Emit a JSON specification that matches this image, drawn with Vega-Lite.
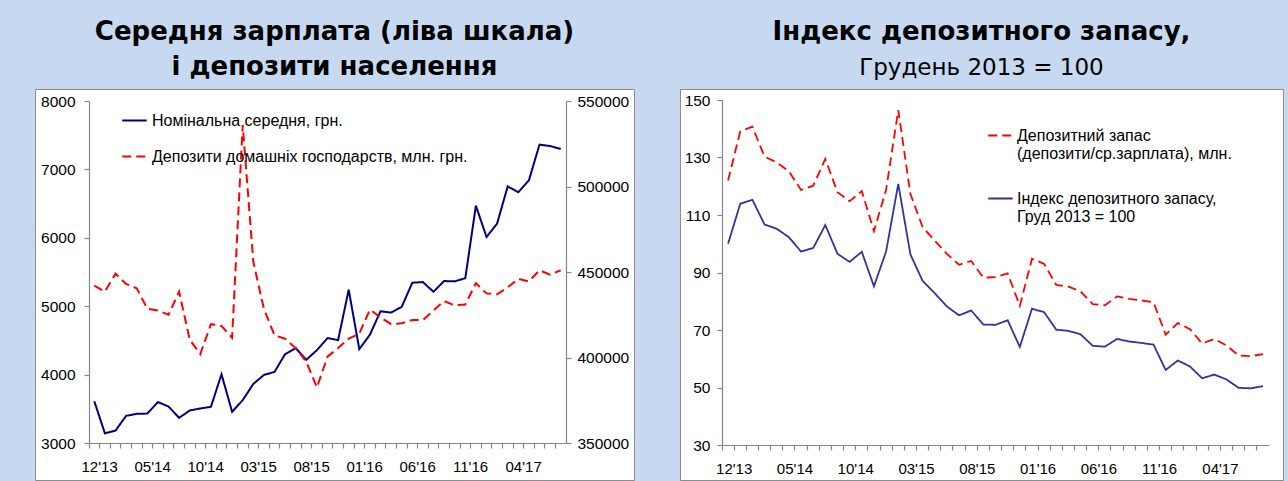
{
  "$schema": "https://vega.github.io/schema/vega-lite/v6.json",
  "background": "#C6D9F1",
  "padding": {"left": 34, "top": 18, "right": 8, "bottom": 0},
  "spacing": 44,
  "config": {
    "view": {"fill": "white", "stroke": "#8c8c8c", "strokeWidth": 1},
    "axis": {"domainColor": "#868686", "tickColor": "#868686", "domainWidth": 1.2, "tickWidth": 1.2, "tickSize": 5, "labelColor": "black", "labelFont": "Liberation Sans", "labelFontSize": 15.5, "grid": false, "title": null},
    "title": {"font": "DejaVu Sans", "fontSize": 26, "fontWeight": "bold", "color": "black", "anchor": "middle", "frame": "group", "offset": 9, "lineHeight": 35},
    "legend": {"title": null, "orient": "none", "symbolType": "stroke", "symbolSize": 600, "symbolStrokeWidth": 2, "labelFont": "Liberation Sans", "labelFontSize": 16, "labelColor": "black", "padding": 0, "labelLimit": 600}
  },
  "resolve": {"scale": {"color": "independent", "strokeDash": "independent"}, "legend": {"color": "independent", "strokeDash": "independent"}},
  "datasets": {
    "left": [
      {"m":"12'13","s":"w","v":3610},{"m":"01'14","s":"w","v":3142},{"m":"02'14","s":"w","v":3181},{"m":"03'14","s":"w","v":3397},{"m":"04'14","s":"w","v":3426},{"m":"05'14","s":"w","v":3430},{"m":"06'14","s":"w","v":3598},{"m":"07'14","s":"w","v":3534},{"m":"08'14","s":"w","v":3368},{"m":"09'14","s":"w","v":3475},{"m":"10'14","s":"w","v":3505},{"m":"11'14","s":"w","v":3529},{"m":"12'14","s":"w","v":4005},{"m":"01'15","s":"w","v":3456},{"m":"02'15","s":"w","v":3627},{"m":"03'15","s":"w","v":3863},{"m":"04'15","s":"w","v":3995},{"m":"05'15","s":"w","v":4039},{"m":"06'15","s":"w","v":4299},{"m":"07'15","s":"w","v":4387},{"m":"08'15","s":"w","v":4216},{"m":"09'15","s":"w","v":4358},{"m":"10'15","s":"w","v":4534},{"m":"11'15","s":"w","v":4505},{"m":"12'15","s":"w","v":5240},{"m":"01'16","s":"w","v":4373},{"m":"02'16","s":"w","v":4583},{"m":"03'16","s":"w","v":4926},{"m":"04'16","s":"w","v":4907},{"m":"05'16","s":"w","v":4990},{"m":"06'16","s":"w","v":5343},{"m":"07'16","s":"w","v":5353},{"m":"08'16","s":"w","v":5211},{"m":"09'16","s":"w","v":5368},{"m":"10'16","s":"w","v":5363},{"m":"11'16","s":"w","v":5410},{"m":"12'16","s":"w","v":6470},{"m":"01'17","s":"w","v":6012},{"m":"02'17","s":"w","v":6207},{"m":"03'17","s":"w","v":6752},{"m":"04'17","s":"w","v":6665},{"m":"05'17","s":"w","v":6840},{"m":"06'17","s":"w","v":7362},{"m":"07'17","s":"w","v":7342},{"m":"08'17","s":"w","v":7298},
      {"m":"12'13","s":"d","v":442000},{"m":"01'14","s":"d","v":438500},{"m":"02'14","s":"d","v":449000},{"m":"03'14","s":"d","v":443000},{"m":"04'14","s":"d","v":440500},{"m":"05'14","s":"d","v":428500},{"m":"06'14","s":"d","v":427500},{"m":"07'14","s":"d","v":425000},{"m":"08'14","s":"d","v":438500},{"m":"09'14","s":"d","v":410500},{"m":"10'14","s":"d","v":402000},{"m":"11'14","s":"d","v":419500},{"m":"12'14","s":"d","v":418500},{"m":"01'15","s":"d","v":411500},{"m":"02'15","s":"d","v":536000},{"m":"03'15","s":"d","v":456000},{"m":"04'15","s":"d","v":428500},{"m":"05'15","s":"d","v":413000},{"m":"06'15","s":"d","v":411000},{"m":"07'15","s":"d","v":405500},{"m":"08'15","s":"d","v":397500},{"m":"09'15","s":"d","v":382500},{"m":"10'15","s":"d","v":400500},{"m":"11'15","s":"d","v":405500},{"m":"12'15","s":"d","v":411000},{"m":"01'16","s":"d","v":414000},{"m":"02'16","s":"d","v":428000},{"m":"03'16","s":"d","v":423500},{"m":"04'16","s":"d","v":419500},{"m":"05'16","s":"d","v":420000},{"m":"06'16","s":"d","v":422000},{"m":"07'16","s":"d","v":422000},{"m":"08'16","s":"d","v":427500},{"m":"09'16","s":"d","v":433000},{"m":"10'16","s":"d","v":430500},{"m":"11'16","s":"d","v":431000},{"m":"12'16","s":"d","v":443500},{"m":"01'17","s":"d","v":437500},{"m":"02'17","s":"d","v":437000},{"m":"03'17","s":"d","v":441000},{"m":"04'17","s":"d","v":446000},{"m":"05'17","s":"d","v":444500},{"m":"06'17","s":"d","v":451000},{"m":"07'17","s":"d","v":448500},{"m":"08'17","s":"d","v":451000}
    ],
    "right": [
      {"m":"12'13","s":"r","v":122.0},{"m":"01'14","s":"r","v":139.1},{"m":"02'14","s":"r","v":140.7},{"m":"03'14","s":"r","v":130.3},{"m":"04'14","s":"r","v":128.3},{"m":"05'14","s":"r","v":125.2},{"m":"06'14","s":"r","v":118.7},{"m":"07'14","s":"r","v":120.2},{"m":"08'14","s":"r","v":129.5},{"m":"09'14","s":"r","v":117.9},{"m":"10'14","s":"r","v":114.8},{"m":"11'14","s":"r","v":118.3},{"m":"12'14","s":"r","v":104.4},{"m":"01'15","s":"r","v":118.8},{"m":"02'15","s":"r","v":146.5},{"m":"03'15","s":"r","v":117.3},{"m":"04'15","s":"r","v":105.8},{"m":"05'15","s":"r","v":101.1},{"m":"06'15","s":"r","v":96.5},{"m":"07'15","s":"r","v":92.7},{"m":"08'15","s":"r","v":94.0},{"m":"09'15","s":"r","v":88.2},{"m":"10'15","s":"r","v":88.4},{"m":"11'15","s":"r","v":89.7},{"m":"12'15","s":"r","v":78.4},{"m":"01'16","s":"r","v":94.8},{"m":"02'16","s":"r","v":93.0},{"m":"03'16","s":"r","v":85.7},{"m":"04'16","s":"r","v":85.1},{"m":"05'16","s":"r","v":83.4},{"m":"06'16","s":"r","v":79.0},{"m":"07'16","s":"r","v":78.6},{"m":"08'16","s":"r","v":81.7},{"m":"09'16","s":"r","v":80.8},{"m":"10'16","s":"r","v":80.3},{"m":"11'16","s":"r","v":79.6},{"m":"12'16","s":"r","v":68.4},{"m":"01'17","s":"r","v":72.4},{"m":"02'17","s":"r","v":70.3},{"m":"03'17","s":"r","v":65.3},{"m":"04'17","s":"r","v":66.9},{"m":"05'17","s":"r","v":64.6},{"m":"06'17","s":"r","v":61.1},{"m":"07'17","s":"r","v":60.9},{"m":"08'17","s":"r","v":61.6},
      {"m":"12'13","s":"b","v":100.0},{"m":"01'14","s":"b","v":113.9},{"m":"02'14","s":"b","v":115.3},{"m":"03'14","s":"b","v":106.7},{"m":"04'14","s":"b","v":105.2},{"m":"05'14","s":"b","v":102.3},{"m":"06'14","s":"b","v":97.3},{"m":"07'14","s":"b","v":98.5},{"m":"08'14","s":"b","v":106.5},{"m":"09'14","s":"b","v":96.5},{"m":"10'14","s":"b","v":93.7},{"m":"11'14","s":"b","v":97.2},{"m":"12'14","s":"b","v":85.2},{"m":"01'15","s":"b","v":97.3},{"m":"02'15","s":"b","v":120.8},{"m":"03'15","s":"b","v":96.3},{"m":"04'15","s":"b","v":87.1},{"m":"05'15","s":"b","v":82.8},{"m":"06'15","s":"b","v":78.2},{"m":"07'15","s":"b","v":75.1},{"m":"08'15","s":"b","v":76.8},{"m":"09'15","s":"b","v":71.9},{"m":"10'15","s":"b","v":71.8},{"m":"11'15","s":"b","v":73.4},{"m":"12'15","s":"b","v":64.1},{"m":"01'16","s":"b","v":77.4},{"m":"02'16","s":"b","v":76.2},{"m":"03'16","s":"b","v":70.1},{"m":"04'16","s":"b","v":69.7},{"m":"05'16","s":"b","v":68.5},{"m":"06'16","s":"b","v":64.5},{"m":"07'16","s":"b","v":64.2},{"m":"08'16","s":"b","v":66.9},{"m":"09'16","s":"b","v":66.0},{"m":"10'16","s":"b","v":65.5},{"m":"11'16","s":"b","v":64.9},{"m":"12'16","s":"b","v":56.1},{"m":"01'17","s":"b","v":59.4},{"m":"02'17","s":"b","v":57.3},{"m":"03'17","s":"b","v":53.2},{"m":"04'17","s":"b","v":54.5},{"m":"05'17","s":"b","v":52.8},{"m":"06'17","s":"b","v":49.9},{"m":"07'17","s":"b","v":49.7},{"m":"08'17","s":"b","v":50.5}
    ]
  },
  "hconcat": [
    {
      "width": 599,
      "height": 391,
      "title": {"text": ["Середня зарплата (ліва шкала)", "і депозити населення"]},
      "data": {"name": "left"},
      "encoding": {
        "x": {"field": "m", "type": "ordinal", "sort": null,
          "scale": {"type": "band", "range": [54, 531], "paddingInner": 0, "paddingOuter": 0},
          "axis": {"bandPosition": 0, "labelOffset": 5.3, "offset": -37, "labelAngle": 0, "labelOverlap": false, "labelPadding": 11, "labelFontSize": 15,
            "labelExpr": "indexof([\"12'13\",\"05'14\",\"10'14\",\"03'15\",\"08'15\",\"01'16\",\"06'16\",\"11'16\",\"04'17\"], datum.value) >= 0 ? datum.value : ''"}},
        "color": {"field": "s", "type": "nominal",
          "scale": {"domain": ["w", "d"], "range": ["#000080", "#ff0000"]},
          "legend": {"legendX": 86, "legendY": 18, "rowPadding": 14, "labelOffset": 4,
            "labelExpr": "datum.label == 'w' ? 'Номінальна середня, грн.' : 'Депозити домашніх господарств, млн. грн.'"}},
        "strokeDash": {"field": "s", "type": "nominal",
          "scale": {"domain": ["w", "d"], "range": [[1, 0], [9, 5]]},
          "legend": {"legendX": 86, "legendY": 18, "rowPadding": 14, "labelOffset": 4,
            "labelExpr": "datum.label == 'w' ? 'Номінальна середня, грн.' : 'Депозити домашніх господарств, млн. грн.'"}}
      },
      "layer": [
        {
          "transform": [{"filter": "datum.s == 'w'"}],
          "mark": {"type": "line", "strokeWidth": 2},
          "encoding": {
            "y": {"field": "v", "type": "quantitative",
              "scale": {"domain": [3000, 8000], "range": [354, 12], "nice": false, "zero": false},
              "axis": {"orient": "left", "offset": -54, "values": [3000, 4000, 5000, 6000, 7000, 8000], "format": "d", "labelPadding": 9}}
          }
        },
        {
          "transform": [{"filter": "datum.s == 'd'"}],
          "mark": {"type": "line", "strokeWidth": 2},
          "encoding": {
            "y": {"field": "v", "type": "quantitative",
              "scale": {"domain": [350000, 550000], "range": [354, 12], "nice": false, "zero": false},
              "axis": {"orient": "right", "offset": -68, "values": [350000, 400000, 450000, 500000, 550000], "format": "d", "labelPadding": 6}}
          }
        }
      ],
      "resolve": {"scale": {"y": "independent"}}
    },
    {
      "width": 603,
      "height": 391,
      "title": {"text": "Індекс депозитного запасу,", "subtitle": "Грудень 2013 = 100", "subtitleFont": "DejaVu Sans", "subtitleFontSize": 23, "subtitleColor": "black", "subtitlePadding": 12},
      "data": {"name": "right"},
      "mark": {"type": "line", "strokeWidth": 1.8},
      "encoding": {
        "x": {"field": "m", "type": "ordinal", "sort": null,
          "scale": {"type": "band", "range": [42, 589], "paddingInner": 0, "paddingOuter": 0},
          "axis": {"bandPosition": 0, "labelOffset": 6.1, "offset": -35, "labelAngle": 0, "labelOverlap": false, "labelPadding": 11, "labelFontSize": 15,
            "labelExpr": "indexof([\"12'13\",\"05'14\",\"10'14\",\"03'15\",\"08'15\",\"01'16\",\"06'16\",\"11'16\",\"04'17\"], datum.value) >= 0 ? datum.value : ''"}},
        "y": {"field": "v", "type": "quantitative",
          "scale": {"domain": [30, 150], "range": [356, 11], "nice": false, "zero": false},
          "axis": {"orient": "left", "offset": -42, "values": [30, 50, 70, 90, 110, 130, 150], "labelPadding": 7}},
        "color": {"field": "s", "type": "nominal",
          "scale": {"domain": ["r", "b"], "range": ["#ff0000", "#333399"]},
          "legend": {"legendX": 307, "legendY": 33, "rowPadding": 23, "labelOffset": 3,
            "labelExpr": "split(datum.label == 'r' ? 'Депозитний запас|(депозити/ср.зарплата), млн.' : 'Індекс депозитного запасу,|Груд 2013 = 100', '|')"}},
        "strokeDash": {"field": "s", "type": "nominal",
          "scale": {"domain": ["r", "b"], "range": [[9, 5], [1, 0]]},
          "legend": {"legendX": 307, "legendY": 33, "rowPadding": 23, "labelOffset": 3,
            "labelExpr": "split(datum.label == 'r' ? 'Депозитний запас|(депозити/ср.зарплата), млн.' : 'Індекс депозитного запасу,|Груд 2013 = 100', '|')"}}
      }
    }
  ]
}
